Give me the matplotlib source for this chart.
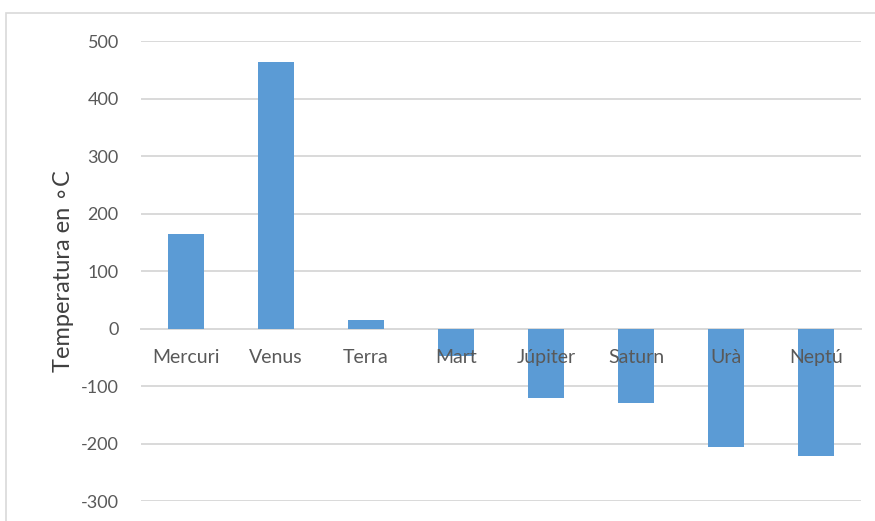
import matplotlib
import matplotlib.pyplot as plt
from matplotlib.patches import Rectangle

matplotlib.use("Agg")

plt.rcParams["font.family"] = ["Lato", "DejaVu Sans"]
plt.rcParams["axes.unicode_minus"] = False

planets = ["Mercuri", "Venus", "Terra", "Mart", "Júpiter", "Saturn", "Urà", "Neptú"]
temps = [165, 464, 15, -47, -121, -130, -206, -221]
y_ticks = [-300, -200, -100, 0, 100, 200, 300, 400, 500]

BAR_COLOR = "#5b9bd5"
GRID_COLOR = "#d9d9d9"
TEXT_COLOR = "#595959"

fig = plt.figure(figsize=(8.75, 5.21), dpi=100)
ax = fig.add_axes([141 / 875, 1 - 501 / 521, 720 / 875, 460 / 521])

x = list(range(len(planets)))
ax.bar(x, temps, width=0.4, color=BAR_COLOR, zorder=3)

ax.set_xlim(-0.5, len(planets) - 0.5)
ax.set_ylim(-300, 500)
ax.set_yticks(y_ticks)
ax.grid(True, axis="y", color=GRID_COLOR, linewidth=1.4)

for s in ["top", "right", "left"]:
    ax.spines[s].set_visible(False)
ax.spines["bottom"].set_position(("data", 0))
ax.spines["bottom"].set_color(GRID_COLOR)
ax.spines["bottom"].set_linewidth(1.4)
ax.spines["bottom"].set_zorder(1)

# gridlines behind the bars, category labels drawn over them (Excel style)
ax.yaxis.set_zorder(0.5)
ax.xaxis.set_zorder(4)

ax.set_xticks(x)
ax.set_xticklabels(planets)
ax.tick_params(axis="x", length=0, pad=15, labelsize=14, labelcolor=TEXT_COLOR)
ax.tick_params(axis="y", length=0, pad=16, labelsize=13, labelcolor=TEXT_COLOR)

ax.set_ylabel("Temperatura en ∘C", fontsize=17, color="#404040", labelpad=5)

# outer chart border (partially cropped in the original)
fig.patches.append(Rectangle((6 / 875, -0.1), 1.1, 1 - 13 / 521 + 0.1,
                             transform=fig.transFigure, fill=False,
                             edgecolor=GRID_COLOR, linewidth=1.2))

fig.savefig("out.png", dpi=100)
